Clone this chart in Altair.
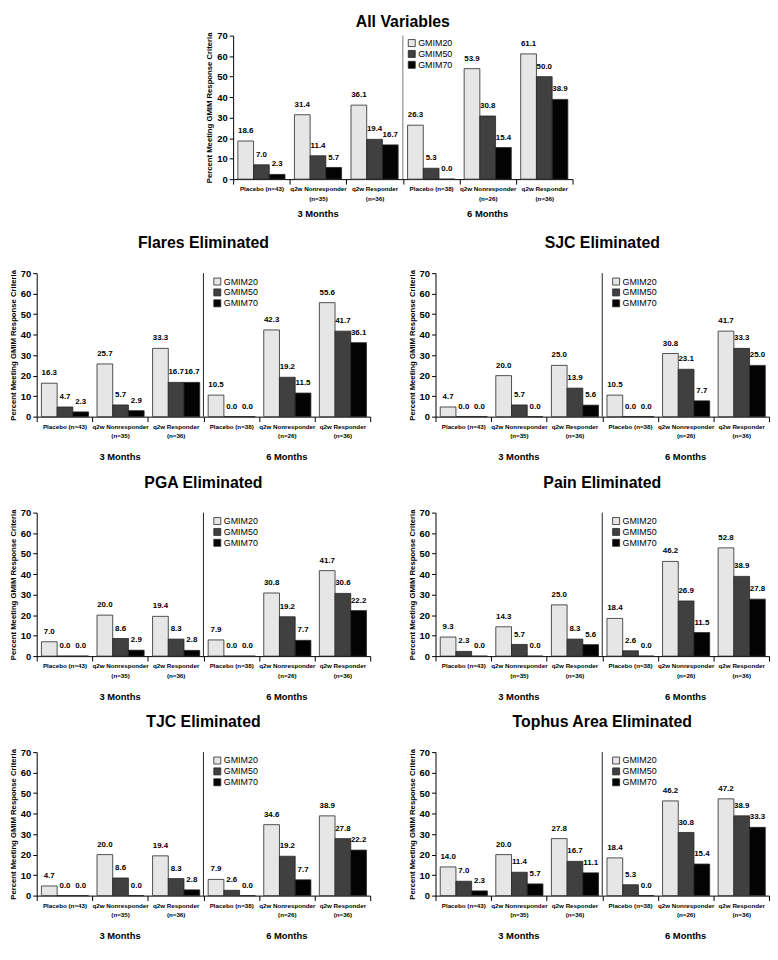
import json
import altair as alt
import pandas as pd

FONT = "Liberation Sans"

SERIES = ["GMIM20", "GMIM50", "GMIM70"]
COLORS = ["#e6e6e6", "#404040", "#030303"]

GROUP_LABELS = [
    ["Placebo (n=43)"],
    ["q2w Nonresponder", "(n=35)"],
    ["q2w Responder", "(n=36)"],
    ["Placebo (n=38)"],
    ["q2w Nonresponder", "(n=26)"],
    ["q2w Responder", "(n=36)"],
]
PERIODS = ["3 Months", "6 Months"]
PERIOD_CENTER_GROUP = [1, 4]
DIVIDER_GROUP = [3]
Y_TICKS = [0, 10, 20, 30, 40, 50, 60, 70]
Y_TITLE = "Percent Meeting GMIM Response Criteria"

# ---- values (3M: Placebo, NR, R ; 6M: Placebo, NR, R)
all_g20 = [18.6, 31.4, 36.1, 26.3, 53.9, 61.1]
all_g50 = [7.0, 11.4, 19.4, 5.3, 30.8, 50.0]
all_g70 = [2.3, 5.7, 16.7, 0.0, 15.4, 38.9]

flares_g20 = [16.3, 25.7, 33.3, 10.5, 42.3, 55.6]
flares_g50 = [4.7, 5.7, 16.7, 0.0, 19.2, 41.7]
flares_g70 = [2.3, 2.9, 16.7, 0.0, 11.5, 36.1]

sjc_g20 = [4.7, 20.0, 25.0, 10.5, 30.8, 41.7]
sjc_g50 = [0.0, 5.7, 13.9, 0.0, 23.1, 33.3]
sjc_g70 = [0.0, 0.0, 5.6, 0.0, 7.7, 25.0]

pga_g20 = [7.0, 20.0, 19.4, 7.9, 30.8, 41.7]
pga_g50 = [0.0, 8.6, 8.3, 0.0, 19.2, 30.6]
pga_g70 = [0.0, 2.9, 2.8, 0.0, 7.7, 22.2]

pain_g20 = [9.3, 14.3, 25.0, 18.4, 46.2, 52.8]
pain_g50 = [2.3, 5.7, 8.3, 2.6, 26.9, 38.9]
pain_g70 = [0.0, 0.0, 5.6, 0.0, 11.5, 27.8]

tjc_g20 = [4.7, 20.0, 19.4, 7.9, 34.6, 38.9]
tjc_g50 = [0.0, 8.6, 8.3, 2.6, 19.2, 27.8]
tjc_g70 = [0.0, 0.0, 2.8, 0.0, 7.7, 22.2]

tophus_g20 = [14.0, 20.0, 27.8, 18.4, 46.2, 47.2]
tophus_g50 = [7.0, 11.4, 16.7, 5.3, 30.8, 38.9]
tophus_g70 = [2.3, 5.7, 11.1, 0.0, 15.4, 33.3]

LABEL_EXPR = json.dumps(GROUP_LABELS) + "[datum.value]"


def panel(title, s20, s50, s70, width, height, legend_x, legend_y,
          title_offset, divider_color, period_dy):
    rows = []
    for name, vals in zip(SERIES, [s20, s50, s70]):
        for g, v in enumerate(vals):
            rows.append({"grp": g, "series": name, "value": v})
    df = pd.DataFrame(rows)

    x_scale = alt.Scale(paddingInner=0, paddingOuter=0)
    x_axis = alt.Axis(
        title=None, labelExpr=LABEL_EXPR, labelAngle=0, tickBand="extent",
        tickSize=5, labelFontSize=6.3, labelFontWeight="bold",
        labelPadding=2, labelLineHeight=9.5, domainColor="#000",
        tickColor="#000", labelColor="#000", labelOverlap=False,
    )
    x = alt.X("grp:O", scale=x_scale, axis=x_axis)
    xoff = alt.XOffset(
        "series:N", sort=SERIES,
        scale=alt.Scale(paddingInner=0, paddingOuter=0.3),
    )
    y = alt.Y(
        "value:Q",
        scale=alt.Scale(domain=[0, 70], nice=False, zero=True),
        axis=alt.Axis(
            title=Y_TITLE, values=Y_TICKS, grid=False, tickSize=4,
            labelFontSize=9.5, labelFontWeight="bold", labelPadding=2,
            labelOverlap=False, titleFontSize=7.8, titleFontWeight="bold",
            titlePadding=3, domainColor="#000", tickColor="#000",
            labelColor="#000", titleColor="#000",
        ),
    )
    bars = alt.Chart(df).mark_bar(stroke="#262626", strokeWidth=0.8).encode(
        x=x, xOffset=xoff, y=y,
        color=alt.Color(
            "series:N", sort=SERIES,
            scale=alt.Scale(domain=SERIES, range=COLORS),
            legend=alt.Legend(
                orient="none", legendX=legend_x, legendY=legend_y,
                title=None, symbolType="square", symbolSize=50,
                symbolStrokeColor="#262626", symbolStrokeWidth=0.8,
                labelFontSize=9, labelFont=FONT, labelColor="#000",
                rowPadding=0, labelOffset=2, direction="vertical",
            ),
        ),
    )
    labels = alt.Chart(df).mark_text(
        baseline="bottom", dy=-6, fontSize=8, fontWeight="bold",
        font=FONT, color="#000",
    ).encode(
        x=x, xOffset=xoff, y=y,
        text=alt.Text("value:Q", format=".1f"),
    )
    divider = alt.Chart(pd.DataFrame({"grp": DIVIDER_GROUP})).mark_rule(
        color=divider_color, strokeWidth=1
    ).encode(x=alt.X("grp:O", bandPosition=0, scale=x_scale, axis=x_axis))
    period = alt.Chart(
        pd.DataFrame({"grp": PERIOD_CENTER_GROUP, "label": PERIODS})
    ).mark_text(
        fontSize=9.5, fontWeight="bold", font=FONT, color="#000",
        baseline="middle",
    ).encode(x=x, y=alt.value(height + period_dy), text="label:N")

    return alt.layer(bars, divider, labels, period).properties(
        width=width, height=height,
        title=alt.Title(title, fontSize=16, fontWeight="bold", font=FONT,
                        anchor="middle", frame="group", offset=title_offset,
                        color="#000"),
    )


W, H = 337, 145
top = panel("All Variables", all_g20, all_g50, all_g70, 343, H, 176, 3, 1, "#777", 35)
flares = panel("Flares Eliminated", flares_g20, flares_g50, flares_g70, W, H, 178, 4, 17, "#222", 41)
sjc = panel("SJC Eliminated", sjc_g20, sjc_g50, sjc_g70, W, H, 178, 4, 17, "#222", 41)
pga = panel("PGA Eliminated", pga_g20, pga_g50, pga_g70, W, H, 178, 4, 17, "#222", 41)
pain = panel("Pain Eliminated", pain_g20, pain_g50, pain_g70, W, H, 178, 4, 17, "#222", 41)
tjc = panel("TJC Eliminated", tjc_g20, tjc_g50, tjc_g70, W, H, 178, 4, 17, "#222", 41)
tophus = panel("Tophus Area Eliminated", tophus_g20, tophus_g50, tophus_g70, W, H, 178, 4, 17, "#222", 41)


def row(a, b):
    return alt.hconcat(a, b, spacing=36).resolve_scale(
        color="independent").resolve_legend(color="independent")


rows = alt.vconcat(
    row(flares, sjc), row(pga, pain), row(tjc, tophus), spacing=12,
).resolve_scale(color="independent").resolve_legend(color="independent")

chart = alt.vconcat(
    top, rows, spacing=16, center=True,
).resolve_scale(color="independent").resolve_legend(
    color="independent"
).properties(padding=0).configure(font=FONT).configure_view(
    stroke="transparent"
)

chart.save("out.html", embed_options={"renderer": "svg", "actions": False})
